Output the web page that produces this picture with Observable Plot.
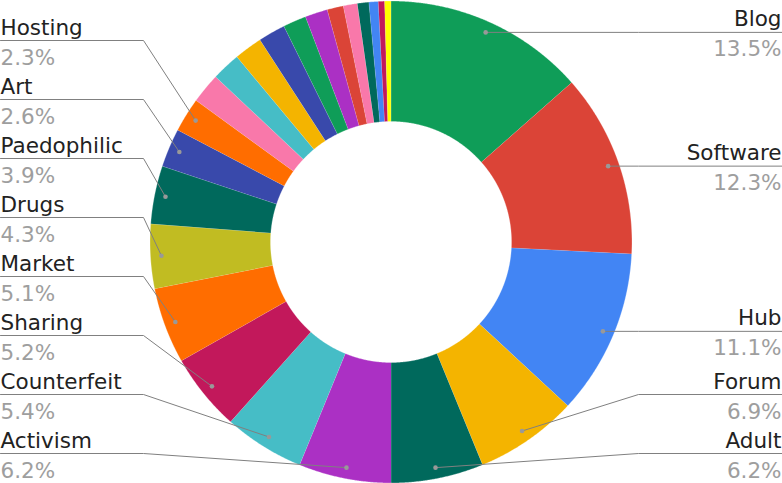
<!DOCTYPE html>
<html><head><meta charset="utf-8">
<script src="https://cdn.jsdelivr.net/npm/d3@7"></script>
<script src="https://cdn.jsdelivr.net/npm/@observablehq/plot@0.6"></script>
<style>body{margin:0;background:#fff;overflow:hidden}</style>
</head><body><div id="chart"></div>
<script>
// Data (percent share of each category, clockwise from 12 o'clock)
const categories = ["Blog","Software","Hub","Forum","Adult","Activism","Counterfeit","Sharing","Market","Drugs","Paedophilic","Art","Hosting",
  "Gambling","Weapons","Hacking","Fraud","Search","Wiki","Directory","Email","Chat","News","Religion","Violence"];
const values = [13.5,12.3,11.1,6.9,6.2,6.2,5.4,5.2,5.1,4.3,3.9,2.6,2.3,
  2.03,1.93,1.89,1.82,1.56,1.51,1.09,0.94,0.77,0.62,0.42,0.42];
const colors = ["#0F9D58","#DB4437","#4285F4","#F4B400","#00695C","#AB30C4","#46BDC6","#C2185B","#FF6D00","#C1BC22","#00695C","#3949AB","#FF6D00",
  "#F978AA","#46BDC6","#F4B400","#3949AB","#0F9D58","#AB30C4","#DB4437","#F978AA","#00695C","#4285F4","#C2185B","#FFFF00"];

const W = 782, H = 483;
const cx = 390.5, cy = 241.5, R = 241, R0 = 120.5, RDOT = 230;
const total = d3.sum(values);
const arcs = d3.pie().sort(null).value(d => d)(values);

// slice polygons
const slicePts = [];
arcs.forEach((a, i) => {
  const name = categories[i];
  const n = Math.max(2, Math.ceil((a.endAngle - a.startAngle) / 0.004) + 1);
  for (let k = 0; k < n; k++) {
    const t = a.startAngle + (a.endAngle - a.startAngle) * k / (n - 1);
    slicePts.push({name, x: cx + R * Math.sin(t), y: cy - R * Math.cos(t)});
  }
  for (let k = n - 1; k >= 0; k--) {
    const t = a.startAngle + (a.endAngle - a.startAngle) * k / (n - 1);
    slicePts.push({name, x: cx + R0 * Math.sin(t), y: cy - R0 * Math.cos(t)});
  }
});

// labels
const labels = [];
arcs.forEach((a, i) => {
  if (values[i] < 2.2) return;
  const m = (a.startAngle + a.endAngle) / 2;
  labels.push({
    name: categories[i],
    pct: (values[i] / total * 100).toFixed(1) + "%",
    side: m < Math.PI ? "right" : "left",
    dx: cx + RDOT * Math.sin(m), dy: cy - RDOT * Math.cos(m)
  });
});
const GAP = 59, BOTTOM = 453;
for (const side of ["left","right"]) {
  const s = labels.filter(d => d.side === side).sort((a, b) => b.dy - a.dy);
  let prev = BOTTOM + GAP;
  for (const d of s) { d.ly = Math.min(d.dy, prev - GAP); prev = d.ly; }
}
labels.forEach(d => {
  d.tx = d.side === "left" ? 0 : W;
  d.ex = d.side === "left" ? 143 : 638;
});
const leaderPts = [];
labels.forEach(d => {
  leaderPts.push({name: d.name, x: d.tx, y: d.ly});
  if ((d.side === "left" && d.dx > d.ex) || (d.side === "right" && d.dx < d.ex))
    leaderPts.push({name: d.name, x: d.ex, y: d.ly});
  leaderPts.push({name: d.name, x: d.dx, y: d.dy});
});
const L = labels.filter(d => d.side === "left"), Rt = labels.filter(d => d.side === "right");
const FS = 21.5;

const chart = Plot.plot({
  width: W, height: H, margin: 0,
  x: {domain: [0, W], range: [0, W], axis: null},
  y: {domain: [0, H], range: [0, H], axis: null},
  color: {domain: categories, range: colors},
  style: {fontFamily: "'DejaVu Sans', sans-serif", background: "white", overflow: "visible"},
  marks: [
    Plot.line(slicePts, {x: "x", y: "y", z: "name", fill: "name", stroke: "white", strokeWidth: 0.4, strokeOpacity: 0.7, curve: "linear"}),
    Plot.line(leaderPts, {x: "x", y: "y", z: "name", stroke: "#808080", strokeWidth: 1}),
    Plot.dot(labels, {x: "dx", y: "dy", r: 2.3, fill: "#999", stroke: null}),
    Plot.text(L, {x: "tx", y: "ly", text: "name", textAnchor: "start", lineAnchor: "bottom", dy: -6, fontSize: FS, fill: "#222"}),
    Plot.text(L, {x: "tx", y: "ly", text: "pct", textAnchor: "start", lineAnchor: "bottom", dy: 24, fontSize: FS, fill: "#9e9e9e"}),
    Plot.text(Rt, {x: "tx", y: "ly", text: "name", textAnchor: "end", lineAnchor: "bottom", dy: -6, dx: -1, fontSize: FS, fill: "#222"}),
    Plot.text(Rt, {x: "tx", y: "ly", text: "pct", textAnchor: "end", lineAnchor: "bottom", dy: 24, dx: -1, fontSize: FS, fill: "#9e9e9e"})
  ]
});
document.getElementById("chart").appendChild(chart);
</script>
</body></html>
